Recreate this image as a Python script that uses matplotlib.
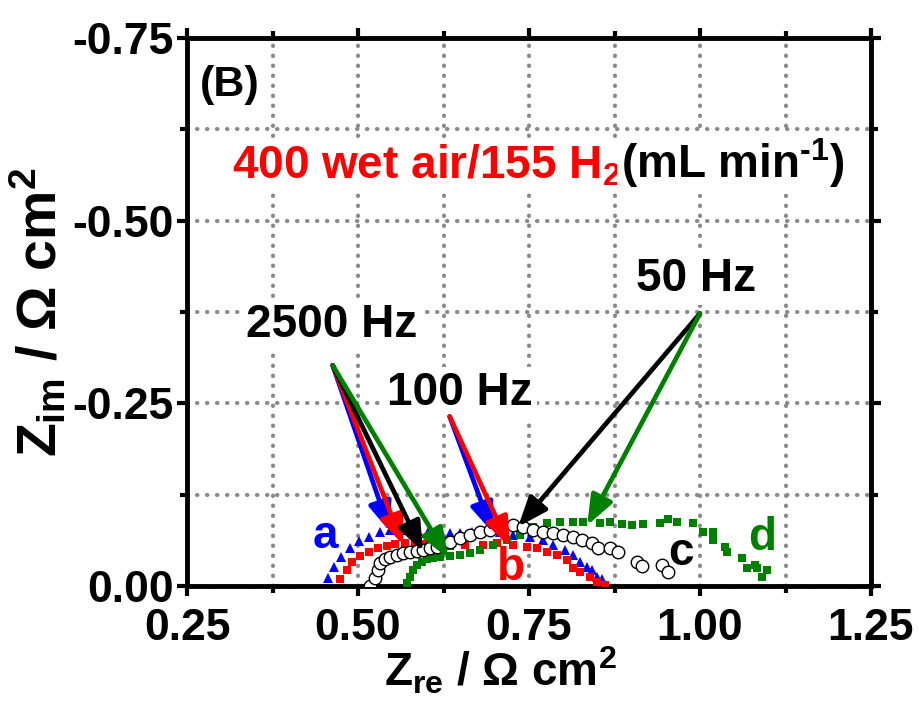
import matplotlib
matplotlib.use("Agg")
import matplotlib.pyplot as plt
from matplotlib.patches import FancyArrowPatch
from matplotlib.ticker import FixedLocator

plt.rcParams["font.family"] = ["Liberation Sans", "DejaVu Sans"]
plt.rcParams["font.weight"] = "bold"
plt.rcParams["mathtext.fontset"] = "custom"
plt.rcParams["mathtext.rm"] = "Liberation Sans:bold"
plt.rcParams["mathtext.it"] = "Liberation Sans:bold"
plt.rcParams["mathtext.bf"] = "Liberation Sans:bold"
plt.rcParams["axes.unicode_minus"] = False

# curva a (azul, triangulos)
zre_a = [0.456, 0.465, 0.475, 0.488, 0.501, 0.516, 0.532, 0.547, 0.569, 0.588,
         0.602, 0.617, 0.634, 0.649, 0.667, 0.678, 0.693, 0.708, 0.727, 0.751,
         0.770, 0.785, 0.803, 0.814, 0.825, 0.835, 0.842, 0.849, 0.857]
zim_a = [-0.011, -0.026, -0.040, -0.052, -0.062, -0.067, -0.074, -0.077, -0.077, -0.075,
         -0.074, -0.073, -0.073, -0.073, -0.074, -0.077, -0.075, -0.074, -0.070, -0.067,
         -0.063, -0.056, -0.049, -0.042, -0.033, -0.026, -0.022, -0.012, -0.010]

# curva b (vermelho, quadrados)
zre_b = [0.474, 0.484, 0.491, 0.503, 0.516, 0.529, 0.542, 0.554, 0.569, 0.583,
         0.598, 0.613, 0.634, 0.656, 0.683, 0.703, 0.727, 0.747, 0.762, 0.776,
         0.791, 0.806, 0.814, 0.825, 0.839, 0.849, 0.861]
zim_b = [-0.010, -0.022, -0.033, -0.041, -0.047, -0.052, -0.055, -0.057, -0.059, -0.060,
         -0.058, -0.055, -0.055, -0.056, -0.056, -0.059, -0.056, -0.053, -0.052, -0.047,
         -0.042, -0.036, -0.025, -0.019, -0.012, -0.005, -0.001]

# curva c (circulos abertos)
zre_c = [0.518, 0.525, 0.529, 0.532, 0.539, 0.547, 0.557, 0.566, 0.576, 0.586,
         0.595, 0.605, 0.615, 0.624, 0.635, 0.649, 0.664, 0.678, 0.693, 0.708,
         0.727, 0.741, 0.756, 0.770, 0.785, 0.800, 0.814, 0.827, 0.842, 0.851,
         0.868, 0.880, 0.908, 0.915, 0.944, 0.953]
zim_c = [-0.000, -0.011, -0.022, -0.031, -0.037, -0.040, -0.042, -0.045, -0.047, -0.048,
         -0.049, -0.052, -0.053, -0.059, -0.060, -0.066, -0.070, -0.074, -0.077, -0.079,
         -0.083, -0.081, -0.077, -0.074, -0.073, -0.070, -0.067, -0.063, -0.059, -0.052,
         -0.052, -0.047, -0.033, -0.027, -0.029, -0.019]

# curva d (verde, quadrados)
zre_d = [0.572, 0.576, 0.580, 0.586, 0.594, 0.601, 0.610, 0.620, 0.635, 0.649,
         0.664, 0.678, 0.697, 0.718, 0.737, 0.756, 0.776, 0.795, 0.814, 0.829,
         0.854, 0.868, 0.886, 0.901, 0.917, 0.942, 0.953, 0.966, 0.990, 1.004,
         1.019, 1.019, 1.037, 1.039, 1.061, 1.069, 1.080, 1.083, 1.098, 1.091]
zim_d = [-0.004, -0.012, -0.022, -0.029, -0.033, -0.037, -0.038, -0.040, -0.041, -0.042,
         -0.045, -0.049, -0.056, -0.063, -0.070, -0.081, -0.086, -0.088, -0.088, -0.088,
         -0.086, -0.088, -0.085, -0.083, -0.085, -0.086, -0.092, -0.088, -0.086, -0.074,
         -0.074, -0.063, -0.053, -0.047, -0.038, -0.025, -0.029, -0.025, -0.022, -0.012]

# setas de frequencia: origem e pontas (cor, ponta)
arrow_2500_from = (0.463, -0.302)
arrow_2500_tips = [("blue", (0.547, -0.074)), ("red", (0.566, -0.056)),
                   ("black", (0.595, -0.047)), ("green", (0.632, -0.038))]
arrow_100_from = (0.634, -0.232)
arrow_100_tips = [("blue", (0.697, -0.073)), ("red", (0.722, -0.053))]
arrow_50_from = (1.000, -0.373)
arrow_50_tips = [("black", (0.734, -0.081)), ("green", (0.835, -0.083))]

GREEN = "#008000"

fig = plt.figure(figsize=(9.19, 7.09), dpi=100)
ax = fig.add_axes([187 / 919, 123 / 709, 684 / 919, 548 / 709])

ax.plot(zre_a, zim_a, "^", color="blue", markersize=7, markeredgewidth=0, zorder=3)
ax.plot(zre_b, zim_b, "s", color="red", markersize=5.5, markeredgewidth=0, zorder=3)
ax.plot(zre_c, zim_c, "o", markerfacecolor="white", markeredgecolor="black",
        markersize=9, markeredgewidth=1.0, zorder=4)
ax.plot(zre_d, zim_d, "s", color=GREEN, markersize=5.5, markeredgewidth=0, zorder=3)

ax.set_xlim(0.25, 1.25)
ax.set_ylim(0, -0.75)
ax.xaxis.set_major_locator(FixedLocator([0.25, 0.5, 0.75, 1.0, 1.25]))
ax.xaxis.set_minor_locator(FixedLocator([0.375, 0.625, 0.875, 1.125]))
ax.yaxis.set_major_locator(FixedLocator([0, -0.25, -0.5, -0.75]))
ax.yaxis.set_minor_locator(FixedLocator([-0.125, -0.375, -0.625]))
ax.set_xticklabels(["0.25", "0.50", "0.75", "1.00", "1.25"])
ax.set_yticklabels(["0.00", "-0.25", "-0.50", "-0.75"])

ax.tick_params(which="both", direction="out", top=True, right=True, width=3)
ax.tick_params(which="major", length=7.5, labelsize=32)
ax.tick_params(axis="x", which="major", pad=8)
ax.tick_params(axis="y", which="major", pad=2)
ax.tick_params(which="minor", length=5)
for sp in ax.spines.values():
    sp.set_linewidth(3.5)

ax.set_axisbelow(True)
ax.grid(True, which="both", color="#8a8a8a", linestyle=(0, (0.1, 2.3)),
        linewidth=3.0, dash_capstyle="round")

ax.set_xlabel(r"$Z_{re}$ / Ω cm$^{2}$", fontsize=33, fontweight="bold")
ax.set_ylabel(r"$Z_{im}$ / Ω cm$^{2}$", fontsize=40, fontweight="bold")
ax.xaxis.set_label_coords(0.458, -0.108)
ax.yaxis.set_label_coords(-0.172, 0.5)

white = dict(facecolor="white", edgecolor="none", pad=3)
ax.text(0.313, -0.686, "(B)", fontsize=31, ha="center", va="center")
ax.text(0.461, -0.357, "2500 Hz", fontsize=33, ha="center", va="center", bbox=white, zorder=2)
ax.text(0.649, -0.264, "100 Hz", fontsize=33, ha="center", va="center", bbox=white, zorder=2)
ax.text(0.994, -0.420, "50 Hz", fontsize=33, ha="center", va="center", bbox=white, zorder=2)

t1 = ax.text(0.316, -0.558, "400 wet air/155 H$_2$", color="red", fontsize=33,
             ha="left", va="baseline", bbox=white, zorder=2)
fig.canvas.draw()
bb = t1.get_window_extent(fig.canvas.get_renderer())
x_right = ax.transData.inverted().transform((bb.x1, bb.y0))[0]
ax.text(x_right, -0.558, r"(mL min$^{\text{-1}}$)", color="black", fontsize=33,
        ha="left", va="baseline", bbox=white, zorder=2)

for frm, tips in [(arrow_2500_from, arrow_2500_tips),
                  (arrow_100_from, arrow_100_tips),
                  (arrow_50_from, arrow_50_tips)]:
    for color, tip in tips:
        c = GREEN if color == "green" else color
        ax.add_patch(FancyArrowPatch(frm, tip, arrowstyle="-|>,head_length=0.9,head_width=0.35",
                                     mutation_scale=20, lw=3.4, color=c,
                                     shrinkA=0, shrinkB=0, zorder=6))

ax.text(0.453, -0.052, "a", color="blue", fontsize=33, ha="center", va="baseline", zorder=7)
ax.text(0.724, -0.008, "b", color="red", fontsize=33, ha="center", va="baseline", zorder=7)
ax.text(0.972, -0.029, "c", color="black", fontsize=33, ha="center", va="baseline", zorder=7)
ax.text(1.091, -0.049, "d", color=GREEN, fontsize=33, ha="center", va="baseline", zorder=7)

fig.savefig("out.png", dpi=100)
